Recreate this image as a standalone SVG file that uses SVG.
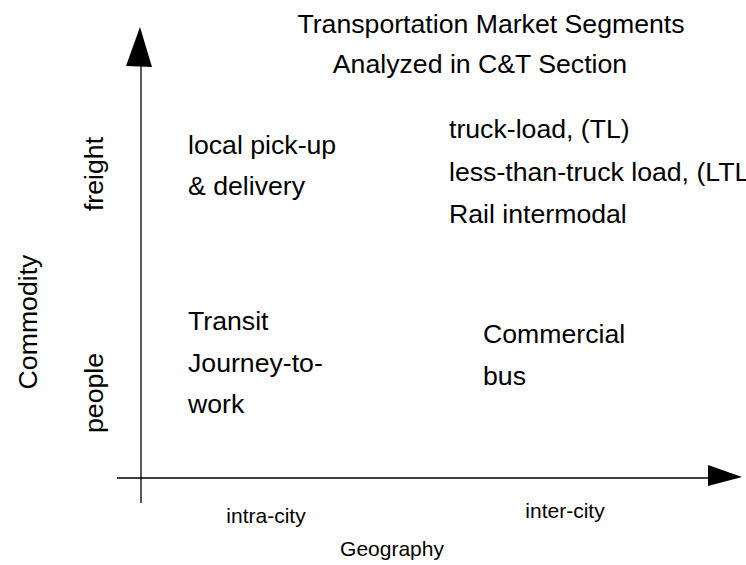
<svg xmlns="http://www.w3.org/2000/svg" width="746" height="565" viewBox="0 0 746 565">
<style>
  text { font-family: "Liberation Sans", Arial, sans-serif; fill: #000; }
  .big { font-size: 26.67px; }
  .small { font-size: 21px; }
  .axis { stroke: #000; stroke-width: 1.3; fill: none; }
</style>
<rect width="746" height="565" fill="#fff"/>
<g id="connectors">
  <line class="axis" x1="141" y1="60" x2="141" y2="503"/>
  <polygon points="140,27 126,66 152,67" fill="#000"/>
  <line class="axis" x1="117" y1="478" x2="712" y2="478"/>
  <polygon points="708,465 742,477 708,486" fill="#000"/>
</g>
<g id="title">
  <text class="big" x="491" y="33" text-anchor="middle">Transportation Market Segments</text>
  <text class="big" x="480" y="73" text-anchor="middle">Analyzed in C&amp;T Section</text>
</g>
<g id="freight-intra">
  <text class="big" x="188" y="154">local pick-up</text>
  <text class="big" x="188" y="195">&amp; delivery</text>
</g>
<g id="freight-inter">
  <text class="big" x="449" y="138">truck-load, (TL)</text>
  <text class="big" x="449" y="181">less-than-truck load, (LTL)</text>
  <text class="big" x="449" y="223">Rail intermodal</text>
</g>
<g id="people-intra">
  <text class="big" x="188" y="330">Transit</text>
  <text class="big" x="188" y="372">Journey-to-</text>
  <text class="big" x="188" y="413">work</text>
</g>
<g id="people-inter">
  <text class="big" x="483" y="343">Commercial</text>
  <text class="big" x="483" y="385">bus</text>
</g>
<g id="y-labels">
  <text class="big" transform="translate(103,174) rotate(-90)" text-anchor="middle">freight</text>
  <text class="big" transform="translate(103,393) rotate(-90)" text-anchor="middle">people</text>
  <text class="big" transform="translate(37,322) rotate(-90)" text-anchor="middle">Commodity</text>
</g>
<g id="x-labels">
  <text class="small" x="266" y="523" text-anchor="middle">intra-city</text>
  <text class="small" x="565" y="518" text-anchor="middle">inter-city</text>
  <text class="small" x="392" y="556" text-anchor="middle">Geography</text>
</g>
</svg>
